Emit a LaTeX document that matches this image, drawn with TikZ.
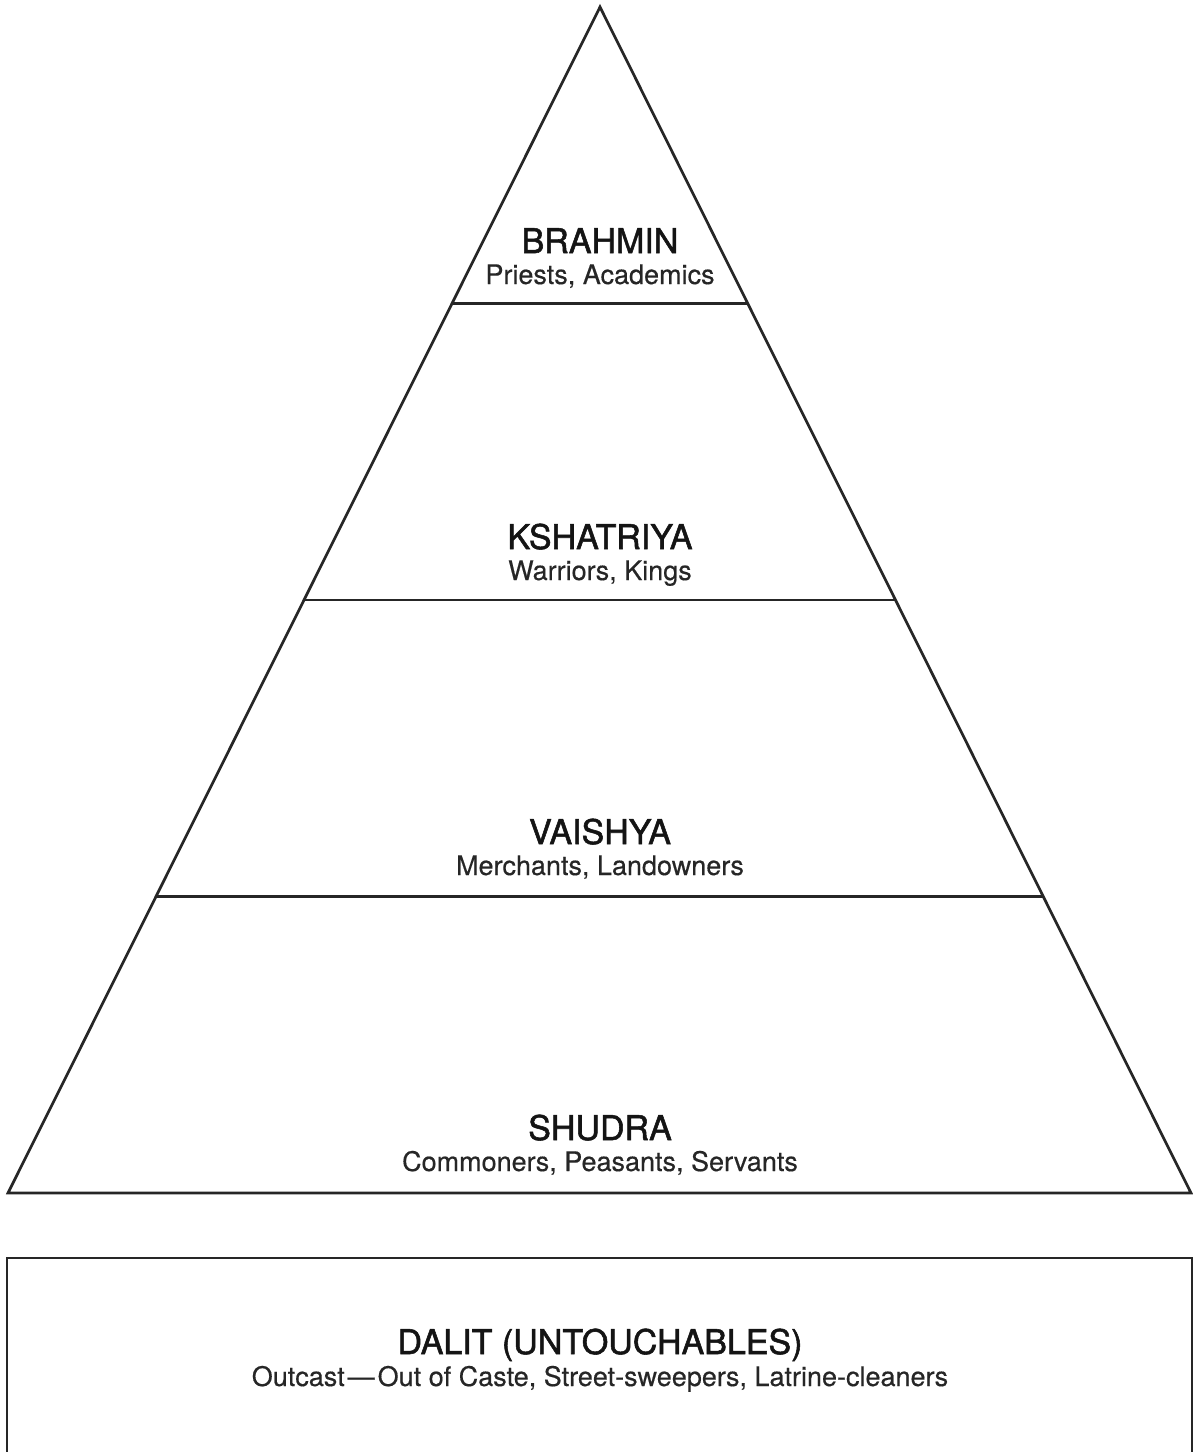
\documentclass[tikz,border=0pt]{standalone}
\usepackage{fontspec}
\setmainfont{TeX Gyre Heros}
\newfontfamily\tierfont[FakeBold=1.6]{TeX Gyre Heros}
\newfontfamily\subfont[FakeBold=0.4]{TeX Gyre Heros}
\usetikzlibrary{calc}
\tikzset{
  edge/.style={line width=2.7pt, draw=black!85, line join=miter},
  title/.style={anchor=base, inner sep=0pt, font=\tierfont\fontsize{34}{40}\selectfont, text=black!92},
  sub/.style={anchor=base, inner sep=0pt, font=\subfont\fontsize{27}{32}\selectfont, text=black!85},
}
\begin{document}
\begin{tikzpicture}[x=1pt,y=-1pt]
\useasboundingbox (0,0) rectangle (1193,1452);
% pyramid corners
\coordinate (apex) at (600,7);
\coordinate (bl) at (8,1193);
\coordinate (br) at (1191,1193);
\draw[edge] (apex) -- (bl) -- (br) -- cycle;
% dividing lines
\coordinate (l1) at ($(apex)!0.25!(bl)$);
\coordinate (r1) at ($(apex)!0.25!(br)$);
\coordinate (l2) at ($(apex)!0.5!(bl)$);
\coordinate (r2) at ($(apex)!0.5!(br)$);
\coordinate (l3) at ($(apex)!0.75!(bl)$);
\coordinate (r3) at ($(apex)!0.75!(br)$);
\draw[edge] (l1) -- (r1);
\draw[edge] (l2) -- (r2);
\draw[edge] (l3) -- (r3);
% Dalit box (runs past the lower edge)
\coordinate (boxtl) at (7,1258);
\coordinate (boxbr) at (1192,1470);
\begin{scope}
\clip (0,0) rectangle (1193,1452);
\draw[edge] (boxtl) rectangle (boxbr);
\end{scope}
% labels
\node[title] (brahmin) at (600,253) {BRAHMIN};
\node[sub] (brahminsub) at (600,284) {Priests, Academics};
\node[title] (kshatriya) at (600,549) {KSHATRIYA};
\node[sub] (kshatriyasub) at (600,580) {Warriors, Kings};
\node[title] (vaishya) at (600,844) {VAISHYA};
\node[sub] (vaishyasub) at (600,875) {Merchants, Landowners};
\node[title] (shudra) at (600,1140) {SHUDRA};
\node[sub] (shudrasub) at (600,1171) {Commoners, Peasants, Servants};
\node[title] (dalit) at (600,1354) {DALIT (UNTOUCHABLES)};
\node[sub] (dalitsub) at (600,1386) {Outcast\kern3pt—\kern3pt Out of Caste, Street-sweepers, Latrine-cleaners};
\end{tikzpicture}
\end{document}
